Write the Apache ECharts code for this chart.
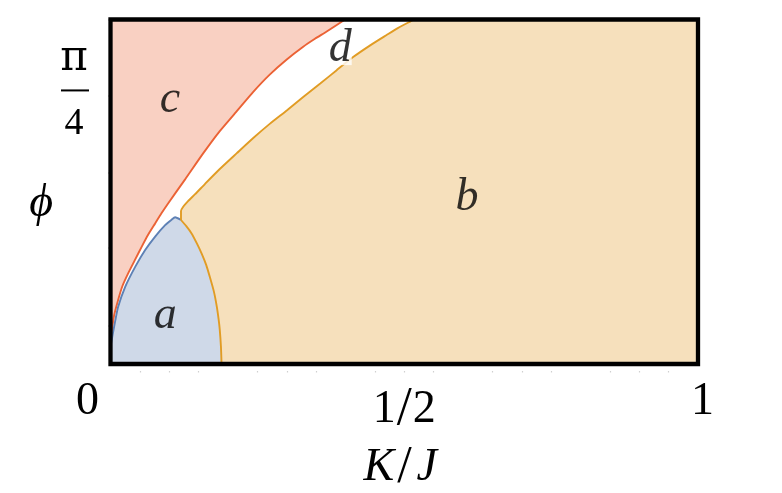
<!DOCTYPE html>
<html><head><meta charset="utf-8">
<script src="https://cdn.jsdelivr.net/npm/echarts@6/dist/echarts.min.js"></script>
<style>html,body{margin:0;padding:0;background:#fff}#chart{width:782px;height:493px}</style>
</head><body><div id="chart"></div>
<script>
// c / d boundary (red)
const redCurve = [[0,0.05],[0.002,0.09],[0.006,0.14],[0.013,0.186],[0.02,0.225],[0.030,0.263],[0.041,0.30],[0.053,0.340],[0.064,0.375],[0.076,0.408],[0.087,0.438],[0.098,0.466],[0.127,0.536],[0.158,0.612],[0.186,0.676],[0.215,0.734],[0.243,0.790],[0.271,0.840],[0.300,0.884],[0.328,0.921],[0.348,0.944],[0.368,0.965],[0.394,0.994],[0.398,1.0]];
// a / c boundary (blue)
const blueCurve = [[0,0.05],[0.003,0.079],[0.008,0.125],[0.013,0.166],[0.025,0.224],[0.042,0.282],[0.059,0.331],[0.076,0.370],[0.093,0.403],[0.104,0.419],[0.110,0.426],[0.120,0.418]];
// a / b boundary (orange)
const orangeLower = [[0.120,0.418],[0.129,0.40],[0.138,0.379],[0.147,0.35],[0.155,0.321],[0.163,0.287],[0.169,0.253],[0.176,0.21],[0.181,0.166],[0.184,0.13],[0.186,0.099],[0.188,0.05],[0.189,0]];
// b / d boundary (orange)
const orangeUpper = [[0.120,0.418],[0.120,0.444],[0.124,0.457],[0.132,0.473],[0.144,0.493],[0.161,0.523],[0.186,0.566],[0.215,0.612],[0.243,0.656],[0.271,0.697],[0.300,0.736],[0.328,0.775],[0.357,0.814],[0.385,0.853],[0.413,0.891],[0.442,0.925],[0.470,0.955],[0.489,0.975],[0.510,0.994],[0.517,1.0]];
const xTickLabels = [0, 0.5, 1];
const xTickDots = [0, 0.2, 0.4, 0.6, 0.8, 1];
const xMinorDots = [0.05,0.1,0.15,0.25,0.3,0.35,0.45,0.5,0.55,0.65,0.7,0.75,0.85,0.9,0.95];
const yTickDots = [0.112, 0.337, 0.555, 0.779, 1.0];
const yTickLabels = [Math.PI / 4];
const regionLabels = [['a',0.093,0.139],['b',0.607,0.482],['c',0.101,0.766],['d',0.391,0.914]];

const pinkRegion = [...redCurve, [0,1]];
const blueRegion = [[0,0], ...blueCurve, ...orangeLower.slice(1)];
const tanRegion = [...orangeLower.slice().reverse(), ...orangeUpper.slice(1), [1,1], [1,0]];

const SERIF = 'Liberation Serif';
function regionSeries(pts, color) {
  return {
    type: 'custom', coordinateSystem: 'cartesian2d', data: pts, silent: true, z: 1,
    encode: {x: 0, y: 1},
    renderItem: function (params, api) {
      if (params.dataIndex !== 0) return null;
      return {type: 'polygon', shape: {points: pts.map(p => api.coord(p))}, style: {fill: color}};
    }
  };
}
function lineSeries(pts, color) {
  return {type: 'line', data: pts, symbol: 'none', showSymbol: false, smooth: 0.2, silent: true, z: 3,
    lineStyle: {color: color, width: 1.9}};
}

const chart = echarts.init(document.getElementById('chart'));
chart.setOption({
  animation: false,
  backgroundColor: '#fff',
  grid: {left: 110.5, right: 84, top: 19.5, bottom: 129, containLabel: false, outerBoundsMode: 'none',
    show: true, borderColor: '#000', borderWidth: 4.3, backgroundColor: 'transparent', z: 10},
  xAxis: [{
    type: 'value', min: 0, max: 1, position: 'bottom', offset: 7,
    axisLine: {show: false}, splitLine: {show: false},
    axisTick: {show: true, customValues: xTickDots, length: 2, lineStyle: {color: '#888', width: 1.5}},
    axisLabel: {
      customValues: xTickLabels, margin: 5, color: '#000', fontFamily: SERIF, fontSize: 46,
      formatter: v => v === 0 ? '{z|0}' : (v === 1 ? '{o|1}' : '{h|1}{s|/}{h|2}'),
      rich: {
        z: {fontFamily: SERIF, fontSize: 46, color: '#000', padding: [3, 46, 0, 0]},
        o: {fontFamily: SERIF, fontSize: 46, color: '#000', padding: [3, 0, 0, 9]},
        h: {fontFamily: SERIF, fontSize: 46, color: '#000', padding: [7, 0, 0, 0]},
        s: {fontFamily: SERIF, fontSize: 54, color: '#000', padding: [7, 1, 0, 1]}
      }
    },
    name: '{i|K}{n|/}{i|J}', nameLocation: 'middle', nameGap: 60,
    nameTextStyle: {
      padding: [0, 8, 0, 0],
      rich: {
        i: {fontFamily: SERIF, fontStyle: 'italic', fontSize: 46, color: '#000'},
        n: {fontFamily: SERIF, fontSize: 52, color: '#000', padding: [0, 5, 0, 3]}
      }
    }
  }, {
    type: 'value', min: 0, max: 1, position: 'bottom', offset: 7,
    axisLine: {show: false}, splitLine: {show: false}, axisLabel: {show: false},
    axisTick: {show: true, customValues: xMinorDots, length: 1.5, lineStyle: {color: '#d0d0d0', width: 1.2}}
  }],
  yAxis: {
    type: 'value', min: 0, max: 1, position: 'left', offset: 7.5,
    axisLine: {show: false}, splitLine: {show: false},
    axisTick: {show: true, customValues: yTickDots, length: 2, lineStyle: {color: '#888', width: 1.5}},
    axisLabel: {
      customValues: yTickLabels, margin: 14,
      formatter: () => '{p|π}\n{bar| }\n{q|4}',
      rich: {
        p: {fontFamily: 'DejaVu Serif', fontSize: 42, color: '#000', width: 30, align: 'center', lineHeight: 38},
        bar: {fontSize: 1, width: 28, height: 2, lineHeight: 24, backgroundColor: '#000'},
        q: {fontFamily: SERIF, fontSize: 38, color: '#000', width: 30, align: 'center', lineHeight: 44}
      }
    },
    name: 'ϕ', nameLocation: 'middle', nameRotate: 0, nameGap: 50,
    nameTextStyle: {fontFamily: SERIF, fontStyle: 'italic', fontSize: 46, color: '#000', verticalAlign: 'top', lineHeight: 24}
  },
  series: [
    regionSeries(pinkRegion, '#f9d0c2'),
    regionSeries(blueRegion, '#cfd9e8'),
    regionSeries(tanRegion, '#f6e0bc'),
    lineSeries(redCurve, '#eb6235'),
    lineSeries(blueCurve, '#5e81b5'),
    lineSeries(orangeLower, '#e19c24'),
    lineSeries(orangeUpper, '#e19c24'),
    {
      type: 'scatter', symbolSize: 0, silent: true, z: 5,
      data: regionLabels.map(r => ({
        name: r[0], value: [r[1], r[2]],
        label: r[0] === 'd' ? {backgroundColor: '#fff', padding: 0, lineHeight: 32} : {}
      })),
      label: {show: true, position: 'inside', formatter: '{b}', color: '#000',
        fontFamily: SERIF, fontStyle: 'italic', fontSize: 46}
    }
  ]
});
</script>
</body></html>
